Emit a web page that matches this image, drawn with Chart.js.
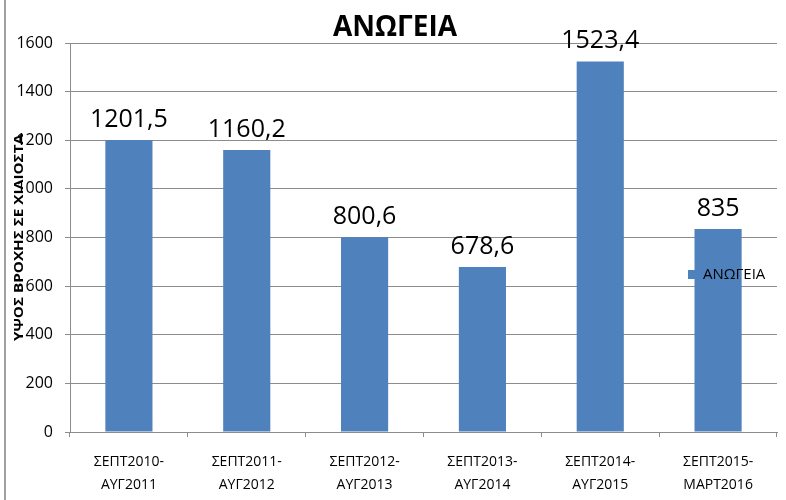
<!DOCTYPE html>
<html>
<head>
<meta charset="utf-8">
<script src="https://cdn.jsdelivr.net/npm/chart.js@4/dist/chart.umd.min.js"></script>
<style>
  html, body { margin: 0; padding: 0; background: #fff; }
  #wrap { width: 786px; height: 500px; position: relative; }
</style>
</head>
<body>
<div id="wrap"><canvas id="myChart" width="786" height="500"></canvas></div>
<script>
let categories = [
  ["ΣΕΠΤ2010-", "ΑΥΓ2011"],
  ["ΣΕΠΤ2011-", "ΑΥΓ2012"],
  ["ΣΕΠΤ2012-", "ΑΥΓ2013"],
  ["ΣΕΠΤ2013-", "ΑΥΓ2014"],
  ["ΣΕΠΤ2014-", "ΑΥΓ2015"],
  ["ΣΕΠΤ2015-", "ΜΑΡΤ2016"]
];
let rainValues = [1201.5, 1160.2, 800.6, 678.6, 1523.4, 835];
let valueLabels = ["1201,5", "1160,2", "800,6", "678,6", "1523,4", "835"];
let seriesName = "ΑΝΩΓΕΙΑ";
let chartTitle = "ΑΝΩΓΕΙΑ";
let axisTitle = "ΥΨΟΣ ΒΡΟΧΗΣ ΣΕ ΧΙΛΙΟΣΤΑ";

const FONT = "'Open Sans', 'Noto Sans', sans-serif";
const BLUE = "#4F81BD";

// titles, value labels, legend and left frame line
const extras = {
  id: "extras",
  afterDatasetsDraw(chart) {
    const ctx = chart.ctx;
    const area = chart.chartArea;
    ctx.save();

    // frame line on the left
    ctx.strokeStyle = "#a0a0a0";
    ctx.lineWidth = 2;
    ctx.beginPath();
    ctx.moveTo(5, 0);
    ctx.lineTo(5, 500);
    ctx.stroke();

    // value labels above bars
    ctx.fillStyle = "#000";
    ctx.font = "25px " + FONT;
    ctx.textAlign = "center";
    ctx.textBaseline = "bottom";
    chart.getDatasetMeta(0).data.forEach((bar, i) => {
      ctx.fillText(valueLabels[i], bar.x, bar.y - 8);
    });

    // chart title
    ctx.font = "bold 28px " + FONT;
    ctx.textBaseline = "middle";
    ctx.fillText(chartTitle, 395, 28);

    // y axis title (squeezed a little, the original font is narrow)
    ctx.save();
    ctx.translate(19, (area.top + area.bottom) / 2);
    ctx.rotate(-Math.PI / 2);
    ctx.font = "bold 13px " + FONT;
    let w = ctx.measureText(axisTitle).width;
    ctx.scale(207 / w, 1);
    ctx.fillText(axisTitle, 0, 0);
    ctx.restore();

    // legend
    ctx.fillStyle = BLUE;
    ctx.fillRect(688, 270, 8, 9);
    ctx.fillStyle = "#000";
    ctx.font = "15px " + FONT;
    ctx.textAlign = "left";
    ctx.fillText(seriesName, 703, 275);

    ctx.restore();
  }
};

let chart = new Chart("myChart", {
  type: "bar",
  data: {
    labels: categories,
    datasets: [{
      label: seriesName,
      backgroundColor: BLUE,
      data: rainValues,
      barPercentage: 0.4,
      categoryPercentage: 1.0
    }]
  },
  options: {
    responsive: false,
    animation: false,
    devicePixelRatio: 1,
    layout: { padding: { left: 0, right: 9, top: 43, bottom: 0 } },
    plugins: {
      legend: { display: false },
      title: { display: false },
      tooltip: { enabled: false }
    },
    scales: {
      x: {
        afterFit(scale) { scale.height = 68; },
        grid: {
          drawOnChartArea: false,
          drawTicks: true,
          tickLength: 5,
          color: "#8c8c8c",
          offset: true
        },
        border: { display: true, color: "#8c8c8c", width: 1 },
        ticks: {
          color: "#000",
          font: { family: FONT, size: 14, lineHeight: 1.6 },
          padding: 14,
          maxRotation: 0,
          autoSkip: false
        }
      },
      y: {
        min: 0,
        max: 1600,
        afterFit(scale) { scale.width = 70; },
        grid: {
          color: "#8c8c8c",
          tickLength: 5
        },
        border: { display: true, color: "#8c8c8c", width: 1 },
        ticks: {
          stepSize: 200,
          color: "#000",
          font: { family: FONT, size: 16 },
          padding: 12,
          callback: (v) => String(v)
        }
      }
    }
  },
  plugins: [extras]
});
</script>
</body>
</html>
